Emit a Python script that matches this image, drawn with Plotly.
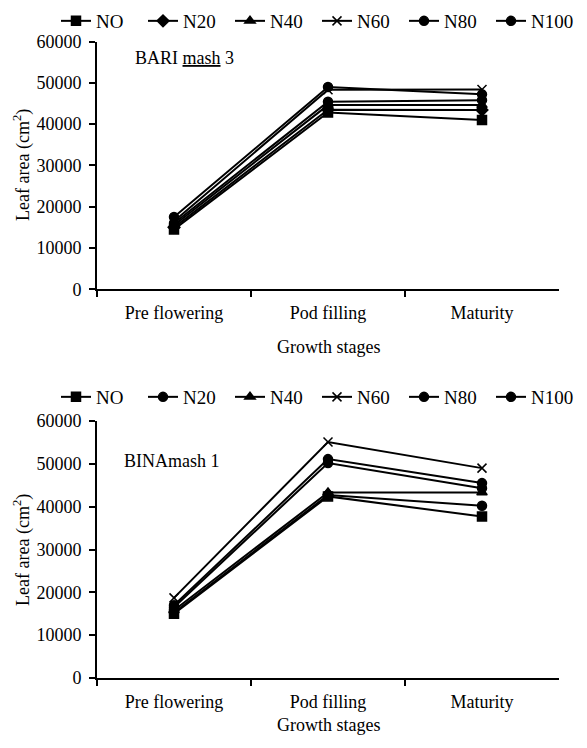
import plotly.graph_objects as go

stages = ["Pre flowering", "Pod filling", "Maturity"]
series_names = ["NO", "N20", "N40", "N60", "N80", "N100"]

# BARI mash 3 leaf area (cm2)
bari_N0 = [14500, 42800, 41000]
bari_N20 = [15000, 43500, 43400]
bari_N40 = [15500, 44600, 44600]
bari_N60 = [16500, 48300, 48400]
bari_N80 = [17500, 49000, 47200]
bari_N100 = [16000, 45400, 45800]

# BINAmash 1 leaf area (cm2)
bina_N0 = [15000, 42400, 37700]
bina_N20 = [15300, 42700, 40200]
bina_N40 = [15800, 43300, 43300]
bina_N60 = [18700, 55100, 49000]
bina_N80 = [17000, 51100, 45500]
bina_N100 = [16500, 50200, 44300]

y_ticks = [0, 10000, 20000, 30000, 40000, 50000, 60000]

bari_data = [bari_N0, bari_N20, bari_N40, bari_N60, bari_N80, bari_N100]
bina_data = [bina_N0, bina_N20, bina_N40, bina_N60, bina_N80, bina_N100]
bari_symbols = ["square", "diamond", "triangle-up", "x-thin-open", "circle", "circle"]
bina_symbols = ["square", "circle", "triangle-up", "x-thin-open", "circle", "circle"]

FONT = "'Liberation Serif', 'Times New Roman', Times, serif"

# page body has an 8px default margin; figure sized to fit the window
OFF = 8
W = 571
H = 732


def px(x):
    return (x - OFF) / W


def py(y):
    return 1 - (y - OFF) / H


fig = go.Figure()

for name, vals, sym in zip(series_names, bari_data, bari_symbols):
    fig.add_trace(go.Scatter(
        x=stages, y=vals, name=name, mode="lines+markers",
        line=dict(color="black", width=2),
        marker=dict(symbol=sym, size=9, color="black",
                    line=dict(color="black", width=1.5)),
        xaxis="x", yaxis="y", legend="legend"))

for name, vals, sym in zip(series_names, bina_data, bina_symbols):
    fig.add_trace(go.Scatter(
        x=stages, y=vals, name=name, mode="lines+markers",
        line=dict(color="black", width=2),
        marker=dict(symbol=sym, size=9, color="black",
                    line=dict(color="black", width=1.5)),
        xaxis="x2", yaxis="y2", legend="legend2"))

xdom = [px(97), px(559)]
ydom1 = [py(289.3), py(41.5)]
ydom2 = [py(678), py(421)]

xaxis_common = dict(
    type="category", categoryorder="array", categoryarray=stages,
    range=[-0.5, 2.5], showline=True, linecolor="black", linewidth=2,
    ticks="outside", tickson="boundaries", ticklen=6, tickwidth=2,
    tickcolor="black", showgrid=False, zeroline=False,
    tickfont=dict(family=FONT, size=18, color="black"),
    ticklabelstandoff=6,
    domain=xdom, fixedrange=True)

yaxis_common = dict(
    range=[0, 60000], tickvals=y_ticks, ticktext=[str(v) for v in y_ticks],
    showline=True, linecolor="black", linewidth=2, ticks="outside",
    ticklen=6, tickwidth=2, tickcolor="black", showgrid=False,
    zeroline=False, tickfont=dict(family=FONT, size=18, color="black"),
    ticklabelstandoff=4,
    fixedrange=True)

legend_common = dict(
    orientation="h", xanchor="left", yanchor="top",
    font=dict(family=FONT, size=19, color="black"),
    bgcolor="rgba(0,0,0,0)", entrywidth=42, entrywidthmode="pixels",
    itemwidth=30, tracegroupgap=0)

ann_font = dict(family=FONT, size=18, color="black")

fig.update_layout(
    width=W, height=H,
    margin=dict(l=0, r=0, t=0, b=0, autoexpand=False),
    paper_bgcolor="white", plot_bgcolor="white",
    showlegend=True,
    font=dict(family=FONT, color="black"),
    xaxis=dict(**xaxis_common, anchor="y"),
    yaxis=dict(**yaxis_common, domain=ydom1, anchor="x"),
    xaxis2=dict(**xaxis_common, anchor="y2"),
    yaxis2=dict(**yaxis_common, domain=ydom2, anchor="x2"),
    legend=dict(**legend_common, x=px(56), y=py(2)),
    legend2=dict(**legend_common, x=px(56), y=py(378)),
    annotations=[
        dict(text="BARI <u>mash</u> 3", x=px(133), y=py(58),
             xref="paper", yref="paper", xanchor="left", yanchor="middle",
             showarrow=False, font=ann_font),
        dict(text="BINAmash 1", x=px(122), y=py(461),
             xref="paper", yref="paper", xanchor="left", yanchor="middle",
             showarrow=False, font=ann_font),
        dict(text="Leaf area (cm<sup>2</sup>)", x=px(8), y=py(165),
             xref="paper", yref="paper", xanchor="left", yanchor="middle",
             textangle=-90, showarrow=False, font=ann_font),
        dict(text="Leaf area (cm<sup>2</sup>)", x=px(8), y=py(550),
             xref="paper", yref="paper", xanchor="left", yanchor="middle",
             textangle=-90, showarrow=False, font=ann_font),
        dict(text="Growth stages", x=px(328), y=py(347),
             xref="paper", yref="paper", xanchor="center", yanchor="middle",
             showarrow=False, font=ann_font),
        dict(text="Growth stages", x=px(328), y=py(725),
             xref="paper", yref="paper", xanchor="center", yanchor="middle",
             showarrow=False, font=ann_font),
    ],
)

fig.write_html("out.html")
